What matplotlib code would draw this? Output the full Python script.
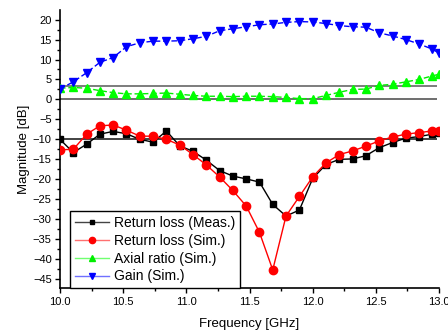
import matplotlib
matplotlib.use("Agg")
import matplotlib.pyplot as plt
from matplotlib.lines import Line2D
from matplotlib.ticker import MultipleLocator

plt.rcParams['font.family'] = ['Liberation Sans', 'DejaVu Sans']

# frequency points [GHz]
freq = [10.000, 10.105, 10.211, 10.316, 10.421, 10.526, 10.632, 10.737, 10.842, 10.947,
        11.053, 11.158, 11.263, 11.368, 11.474, 11.579, 11.684, 11.789, 11.895, 12.000,
        12.105, 12.211, 12.316, 12.421, 12.526, 12.632, 12.737, 12.842, 12.947, 13.000]

rl_meas = [-10.0, -13.3, -11.2, -8.7, -8.0, -8.6, -10.0, -10.7, -7.9, -11.6,
           -13.0, -15.2, -17.8, -19.2, -19.9, -20.7, -26.3, -29.2, -27.7, -19.8,
           -16.3, -15.0, -14.9, -14.1, -12.1, -10.8, -9.7, -9.3, -8.7, -8.4]

rl_sim = [-12.6, -12.5, -8.7, -6.6, -6.4, -7.7, -9.2, -9.2, -10.0, -11.4,
          -13.8, -16.4, -19.4, -22.8, -26.7, -33.3, -42.7, -29.2, -24.3, -19.4,
          -15.9, -13.8, -12.9, -11.7, -10.4, -9.4, -8.7, -8.3, -7.9, -7.8]

axial_ratio = [2.8, 3.0, 2.8, 2.2, 1.7, 1.4, 1.4, 1.5, 1.6, 1.3,
               1.0, 0.8, 0.8, 0.7, 0.8, 0.8, 0.7, 0.5, 0.2, 0.2,
               1.0, 1.8, 2.5, 2.6, 3.5, 3.8, 4.4, 5.0, 5.9, 6.3]

gain = [2.6, 4.4, 6.7, 9.3, 10.5, 13.2, 14.2, 14.6, 14.6, 14.7,
        15.2, 15.8, 17.2, 17.7, 18.2, 18.7, 18.9, 19.3, 19.5, 19.4,
        19.0, 18.5, 18.2, 18.1, 16.7, 15.9, 15.0, 13.9, 12.6, 11.6]

ref_levels = [3.4, 0, -10]
ref_colors = ['#666666', '#555555', '#222222']

labels = ['Return loss (Meas.)', 'Return loss (Sim.)', 'Axial ratio (Sim.)', 'Gain (Sim.)']

fig = plt.figure(figsize=(4.48, 3.31), dpi=100)
ax = fig.add_axes([60 / 448, 1 - 288.3 / 331, 379 / 448, 278.3 / 331])

# reference lines
for lvl, c in zip(ref_levels, ref_colors):
    ax.hlines(lvl, 10.0, 12.985, colors=c, lw=1.2, zorder=1)

ax.plot(freq, rl_meas, color='black', lw=1, marker='s', ms=5, zorder=3)
ax.plot(freq, rl_sim, color='red', lw=1, marker='o', ms=6, zorder=4)
ax.plot(freq, axial_ratio, color='#00ee00', lw=1, ls=(0, (4, 2)), marker='^', ms=6,
        mfc='#00ff00', mec='#00ff00', zorder=3)
ax.plot(freq, gain, color='blue', lw=1, ls=(0, (4, 2)), marker='v', ms=6, zorder=3)

ax.set_xlim(10.0, 13.0)
ax.set_ylim(-47.3, 22.4)
ax.xaxis.set_major_locator(MultipleLocator(0.5))
ax.xaxis.set_minor_locator(MultipleLocator(0.25))
ax.yaxis.set_major_locator(MultipleLocator(5))
ax.yaxis.set_minor_locator(MultipleLocator(2.5))
ax.xaxis.set_major_formatter(plt.FormatStrFormatter('%.1f'))
ax.tick_params(which='major', direction='out', length=3.5, width=1, labelsize=8, pad=2.5)
ax.tick_params(which='minor', direction='out', length=2, width=1)

for s in ['top', 'right']:
    ax.spines[s].set_visible(False)
for s in ['left', 'bottom']:
    ax.spines[s].set_linewidth(1.2)

ax.set_xlabel('Frequency [GHz]', fontsize=9.5, labelpad=8)
ax.set_ylabel('Magnitude [dB]', fontsize=9.5, labelpad=2)

handles = [
    Line2D([], [], color='#444444', lw=1, marker='s', ms=3.5, mfc='black', mec='black'),
    Line2D([], [], color='#ff7070', lw=1, marker='o', ms=4.5, mfc='red', mec='red'),
    Line2D([], [], color='#70ff70', lw=1, marker='^', ms=5, mfc='#00ee00', mec='#00ee00'),
    Line2D([], [], color='#7070ff', lw=1, marker='v', ms=5, mfc='blue', mec='blue'),
]
leg = ax.legend(handles, labels, loc='lower left', bbox_to_anchor=(0.026, 0.0),
                borderaxespad=0, fontsize=10, handlelength=2.5, handletextpad=0.3,
                labelspacing=0.27, borderpad=0.35, fancybox=False, framealpha=1,
                edgecolor='black')
leg.get_frame().set_linewidth(1)

fig.savefig('out.png', dpi=100)
